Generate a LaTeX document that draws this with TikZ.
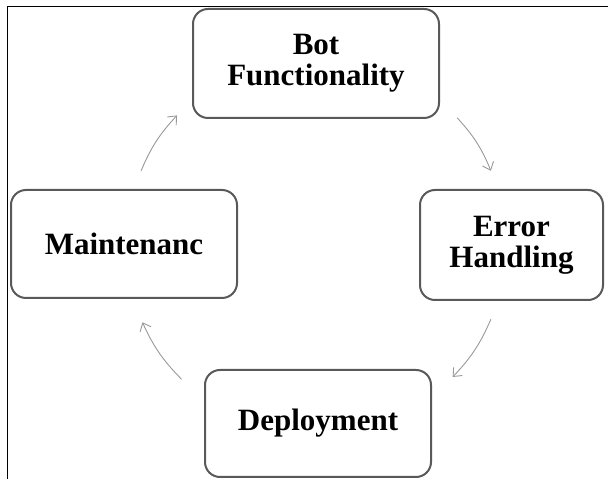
\documentclass[tikz,border=0pt]{standalone}
\usepackage{fontspec}
\setmainfont{Liberation Serif}
\usetikzlibrary{arrows.meta,calc}

\begin{document}
\begin{tikzpicture}[
  x=1pt, y=1pt,
  stage/.style={draw=black!65, line width=2pt, rounded corners=15pt, align=center,
    font=\fontsize{31}{31}\selectfont\bfseries, inner sep=0pt},
  flow/.style={draw=black!40, line width=0.9pt, -{Straight Barb[length=7pt,width=12pt]}}
]
  \useasboundingbox (0,0) rectangle (608,479);
  % frame lines on the left and top
  \draw[line width=1pt] (7,0) -- (7,472) -- (608,472);

  % the four stages
  \node[stage, minimum width=246pt, minimum height=109pt] (bot) at (316,415.5) {Bot\\Functionality};
  \node[stage, minimum width=183pt, minimum height=110pt] (err) at (511.5,234) {Error\\Handling};
  \node[stage, minimum width=226pt, minimum height=107pt] (dep) at (318,55.5) {Deployment};
  \node[stage, minimum width=226pt, minimum height=108pt] (mnt) at (124,235) {Maintenanc};

  % cycle arrows round the middle
  \coordinate (hub) at (316,234);
  \foreach \a/\b [count=\i] in {42/23, -23/-44, -135/-156, 157/137} {
    \coordinate (s\i) at ($(hub)+(\a:190)$);
    \coordinate (e\i) at ($(hub)+(\b:190)$);
    \draw[flow] (s\i) to[bend left=10] (e\i);
  }
\end{tikzpicture}
\end{document}
